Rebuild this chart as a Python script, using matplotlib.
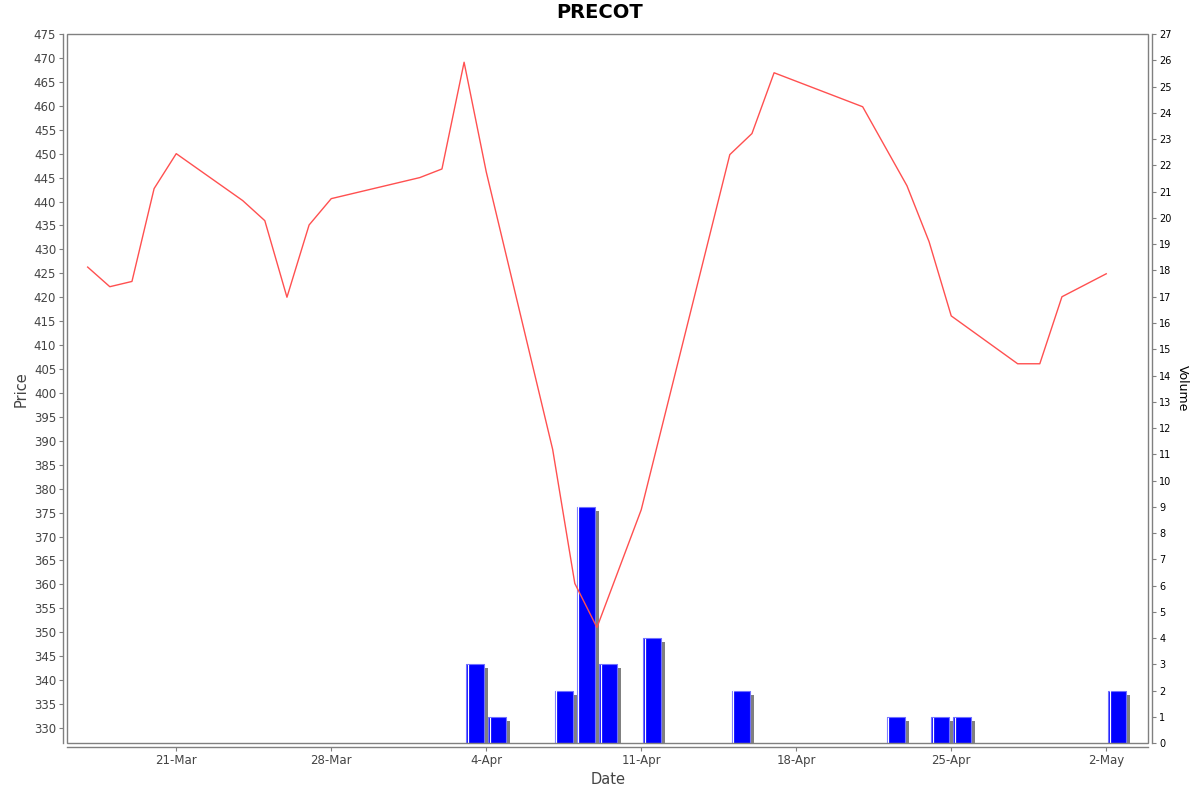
import matplotlib
matplotlib.use("Agg")
import matplotlib.pyplot as plt
import matplotlib.dates as mdates
from matplotlib.patches import Rectangle
from datetime import datetime, timedelta

# ---- data ----
price_dates = ["2025-03-17", "2025-03-18", "2025-03-19", "2025-03-20", "2025-03-21",
               "2025-03-24", "2025-03-25", "2025-03-26", "2025-03-27", "2025-03-28",
               "2025-04-01", "2025-04-02", "2025-04-03", "2025-04-04",
               "2025-04-07", "2025-04-08", "2025-04-09", "2025-04-11",
               "2025-04-15", "2025-04-16", "2025-04-17",
               "2025-04-21", "2025-04-23", "2025-04-24", "2025-04-25",
               "2025-04-28", "2025-04-29", "2025-04-30", "2025-05-02"]
prices = [426.3, 422.2, 423.3, 442.7, 450.0,
          440.2, 436.0, 420.0, 435.1, 440.6,
          445.0, 446.8, 469.1, 446.2,
          388.2, 360.2, 351.0, 375.6,
          449.8, 454.2, 466.9,
          459.8, 443.3, 431.6, 416.1,
          406.1, 406.1, 420.1, 424.9]

vol_dates = ["2025-04-03", "2025-04-04", "2025-04-07", "2025-04-08", "2025-04-09",
             "2025-04-11", "2025-04-15", "2025-04-22", "2025-04-24", "2025-04-25",
             "2025-05-02"]
volumes = [3, 1, 2, 9, 3, 4, 2, 1, 1, 1, 2]

price_ticks = list(range(330, 476, 5))
vol_ticks = list(range(0, 28))
date_ticks = ["2025-03-21", "2025-03-28", "2025-04-04", "2025-04-11",
              "2025-04-18", "2025-04-25", "2025-05-02"]

# ---- figure ----
fig = plt.figure(figsize=(12, 7.92), dpi=100)
L, R, B, T = 67.3 / 1200, 1148.3 / 1200, 1 - 743.3 / 792, 1 - 34 / 792
ax = fig.add_axes([L, B, R - L, T - B])
axv = ax.twinx()
ax.set_zorder(axv.get_zorder() + 1)
ax.patch.set_visible(False)

pdts = [datetime.strptime(d, "%Y-%m-%d") for d in price_dates]
vdts = [datetime.strptime(d, "%Y-%m-%d") for d in vol_dates]

px_day = 22.14
px_vol = 709.3 / 27.0
bar_off = 2.0 / px_day
bar_w = 18.0 / px_day
sh_dx = 4.0 / px_day
sh_dy = 4.0 / px_vol

vnum = mdates.date2num(vdts)
# shadows
axv.bar(vnum + bar_off + sh_dx, [max(v - sh_dy, 0) for v in volumes], width=bar_w,
        align="edge", color="#808080", zorder=1)
# bars
axv.bar(vnum + bar_off, volumes, width=bar_w, align="edge", color="#0000ff",
        edgecolor="#7070ff", linewidth=0.8, zorder=2)
# white inner stripe near left edge
for x, v in zip(vnum, volumes):
    axv.plot([x + bar_off + 1.6 / px_day] * 2, [0, v - 0.5 / px_vol],
             color="white", linewidth=0.9, zorder=3)

ax.plot(pdts, prices, color="#ff5050", linewidth=1.0, zorder=5)

# limits
x0 = mdates.date2num(datetime(2025, 3, 16)) + 0.08
x1 = mdates.date2num(datetime(2025, 5, 3)) + 0.9
ax.set_xlim(x0, x1)
ax.set_ylim(326.8, 475)
axv.set_ylim(0, 27.0)

ax.set_yticks(price_ticks)
ax.set_yticklabels([str(p) for p in price_ticks])
axv.set_yticks(vol_ticks)
axv.set_yticklabels([str(v) for v in vol_ticks])
tnum = [mdates.date2num(datetime.strptime(d, "%Y-%m-%d")) for d in date_ticks]
ax.set_xticks(tnum)
ax.set_xticklabels([datetime.strptime(d, "%Y-%m-%d").strftime("%-d-%b") for d in date_ticks])

gray = "#808080"
for a in (ax, axv):
    for s in a.spines.values():
        s.set_visible(False)
ax.spines["left"].set_visible(True)
ax.spines["left"].set_position(("outward", 3))
ax.spines["bottom"].set_visible(True)
ax.spines["bottom"].set_position(("outward", 3))
axv.spines["right"].set_visible(True)
axv.spines["right"].set_position(("outward", 3))
for s in (ax.spines["left"], ax.spines["bottom"], axv.spines["right"]):
    s.set_color(gray)
    s.set_linewidth(1.0)

ax.add_patch(Rectangle((0, 0), 1, 1, transform=ax.transAxes, fill=False,
                       edgecolor=gray, linewidth=1.0, clip_on=False, zorder=10))

ax.tick_params(axis="y", length=3, color=gray, labelsize=8.5, labelcolor="#444444", pad=2)
ax.tick_params(axis="x", length=3, color=gray, labelsize=8.5, labelcolor="#444444", pad=2)
axv.tick_params(axis="y", length=3, color=gray, labelsize=7, labelcolor="#000000", pad=2)

ax.set_ylabel("Price", fontsize=10.5, color="#444444", labelpad=4)
ax.set_xlabel("Date", fontsize=10.5, color="#444444", labelpad=3)
axv.set_ylabel("Volume", fontsize=9, color="#000000", rotation=270, labelpad=12)

fig.text(0.5, 1 - 13 / 792, "PRECOT", ha="center", va="center",
         fontsize=14, fontweight="bold", color="black")

fig.savefig("out.png", dpi=100)
